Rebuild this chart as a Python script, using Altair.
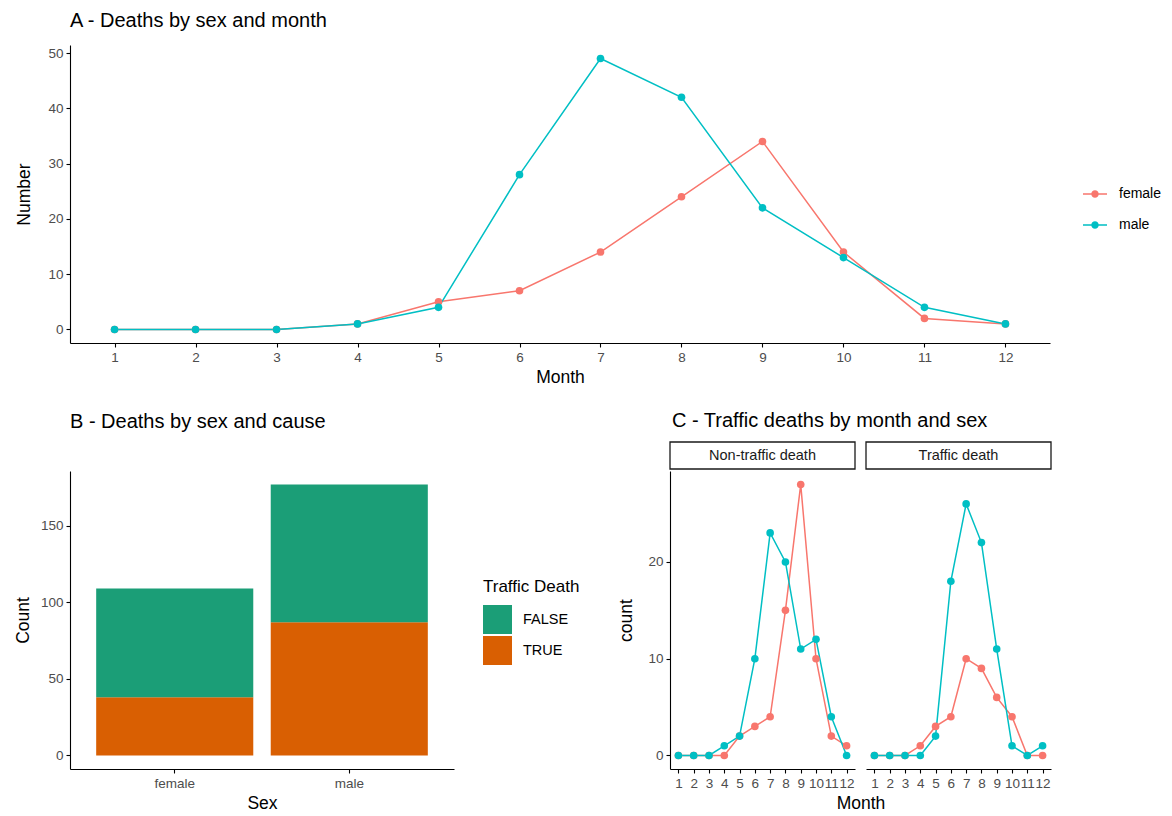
import altair as alt
import pandas as pd

FONT = "Liberation Sans"

# ---------------- data ----------------
months = list(range(1, 13))
sexes = ["female", "male"]
sex_colors = ["#F8766D", "#00BFC4"]

# Panel A: deaths by sex and month
female_by_month = [0, 0, 0, 1, 5, 7, 14, 24, 34, 14, 2, 1]
male_by_month = [0, 0, 0, 1, 4, 28, 49, 42, 22, 13, 4, 1]

# Panel B: deaths by sex and cause
traffic_levels = ["FALSE", "TRUE"]
traffic_colors = ["#1B9E77", "#D95F02"]
count_traffic_true = [38, 87]
count_traffic_false = [71, 90]

# Panel C: traffic deaths by month and sex
strip_labels = ["Non-traffic death", "Traffic death"]
nontraffic_female = [0, 0, 0, 0, 2, 3, 4, 15, 28, 10, 2, 1]
nontraffic_male = [0, 0, 0, 1, 2, 10, 23, 20, 11, 12, 4, 0]
traffic_female = [0, 0, 0, 1, 3, 4, 10, 9, 6, 4, 0, 0]
traffic_male = [0, 0, 0, 0, 2, 18, 26, 22, 11, 1, 0, 1]

# ---------------- helpers ----------------
sex_scale = alt.Scale(domain=sexes, range=sex_colors)
legend_symbol = ("M-1,-0.065L1,-0.065L1,0.065L-1,0.065Z "
                 "M0.31,0A0.31,0.31 0 1,1 -0.31,0A0.31,0.31 0 1,1 0.31,0Z")


def title_params(text, offset, dx=0):
    return alt.TitleParams(text, anchor="start", frame="group", fontSize=20,
                           fontWeight="normal", color="#000000", font=FONT,
                           offset=offset, dx=dx)


def month_x(title, title_x=None, label_size=13.5):
    kw = dict(values=months, format="d", labelFlush=False, labelOverlap=False,
              labelFontSize=label_size)
    if title_x is not None:
        kw["titleX"] = title_x
    return alt.X("Month:Q", title=title,
                 scale=alt.Scale(domain=[0.45, 12.55], nice=False, zero=False),
                 axis=alt.Axis(**kw))


# ---------------- panel A ----------------
dfA = pd.DataFrame({
    "Month": months * 2,
    "Number": female_by_month + male_by_month,
    "Sex": [sexes[0]] * 12 + [sexes[1]] * 12,
})
legendA = alt.Legend(
    title=None, orient="none", legendX=1013, legendY=137,
    symbolType=legend_symbol, symbolSize=576, symbolStrokeWidth=0,
    labelFontSize=14, labelOffset=12, rowPadding=12, labelFont=FONT)
yA = alt.Y("Number:Q", title="Number",
           scale=alt.Scale(domain=[-2.45, 51.45], nice=False, zero=False),
           axis=alt.Axis(values=[0, 10, 20, 30, 40, 50], titlePadding=14))
baseA = alt.Chart(dfA).encode(x=month_x("Month"), y=yA)
lineA = baseA.mark_line(strokeWidth=1.5).encode(
    color=alt.Color("Sex:N", scale=sex_scale, legend=legendA))
pointA = baseA.mark_point(filled=True, size=58, opacity=1).encode(
    color=alt.Color("Sex:N", scale=sex_scale, legend=legendA))
chartA = alt.layer(lineA, pointA).properties(
    width=980, height=298, title=title_params("A - Deaths by sex and month", 14))

# ---------------- panel B ----------------
dfB = pd.DataFrame({
    "Sex": sexes * 2,
    "traffic": [traffic_levels[1]] * 2 + [traffic_levels[0]] * 2,
    "Count": count_traffic_true + count_traffic_false,
})
chartB = alt.Chart(dfB).mark_bar().encode(
    x=alt.X("Sex:N", title="Sex", sort=sexes,
            scale=alt.Scale(paddingInner=0.1, paddingOuter=0.15),
            axis=alt.Axis(labelAngle=0)),
    y=alt.Y("Count:Q", title="Count", stack="zero",
            scale=alt.Scale(domain=[-8.85, 185.85], nice=False, zero=False),
            axis=alt.Axis(values=[0, 50, 100, 150], titlePadding=8)),
    color=alt.Color("traffic:N", scale=alt.Scale(domain=traffic_levels, range=traffic_colors),
                    legend=alt.Legend(title="Traffic Death", orient="none",
                                      legendX=413, legendY=108,
                                      symbolType="square", symbolSize=841,
                                      symbolStrokeWidth=0, labelFontSize=14.5,
                                      labelOffset=11, rowPadding=2,
                                      titleFontSize=17, titleFontWeight="normal",
                                      titleColor="#000000", titlePadding=9)),
    order=alt.Order("traffic:N", sort="descending"),
).properties(width=384, height=298,
             title=title_params("B - Deaths by sex and cause", 39))


# ---------------- panel C ----------------
def facet_panel(label, female, male, first):
    df = pd.DataFrame({
        "Month": months * 2,
        "count": female + male,
        "Sex": [sexes[0]] * 12 + [sexes[1]] * 12,
    })
    if first:
        y = alt.Y("count:Q", title="count",
                  scale=alt.Scale(domain=[-1.4, 29.4], nice=False, zero=False),
                  axis=alt.Axis(values=[0, 10, 20], titlePadding=12))
        x = month_x("Month", title_x=190.5)
    else:
        y = alt.Y("count:Q", scale=alt.Scale(domain=[-1.4, 29.4], nice=False, zero=False),
                  axis=None)
        x = month_x(None)
    base = alt.Chart(df).encode(x=x, y=y)
    line = base.mark_line(strokeWidth=1.5).encode(
        color=alt.Color("Sex:N", scale=sex_scale, legend=None))
    point = base.mark_point(filled=True, size=58, opacity=1).encode(
        color=alt.Color("Sex:N", scale=sex_scale, legend=None))
    sdf = pd.DataFrame({"label": [label]})
    box = alt.Chart(sdf).mark_rect(fill="white", stroke="#1A1A1A", strokeWidth=1.3).encode(
        x=alt.value(0), x2=alt.value(185), y=alt.value(-29), y2=alt.value(-2))
    txt = alt.Chart(sdf).mark_text(fontSize=14.5, color="#1A1A1A", font=FONT).encode(
        text="label:N", x=alt.value(92.5), y=alt.value(-15.5))
    return alt.layer(box, txt, line, point).properties(width=185, height=298)


cLeft = facet_panel(strip_labels[0], nontraffic_female, nontraffic_male, True)
cRight = facet_panel(strip_labels[1], traffic_female, traffic_male, False)
chartC = alt.hconcat(cLeft, cRight, spacing=11, bounds="flush").properties(
    title=title_params("C - Traffic deaths by month and sex", 10, dx=2))

row2 = alt.hconcat(chartB, chartC, spacing=37).resolve_scale(color="independent")

chart = alt.vconcat(chartA, row2, spacing=25).resolve_scale(color="independent").properties(
    padding={"left": 6, "top": 3, "right": 0, "bottom": 0}
).configure(font=FONT).configure_view(stroke=None).configure_axis(
    domainColor="#000000", domainWidth=1.1, tickColor="#000000", tickWidth=1.1,
    tickSize=4, labelColor="#4D4D4D", labelFontSize=13.5, labelFont=FONT,
    titleFont=FONT, titleFontSize=17.5, titleFontWeight="normal", titleColor="#000000",
    labelPadding=3, titlePadding=5, grid=False,
).configure_legend(labelColor="#000000", labelFont=FONT, titleFont=FONT)

chart.save("out.html", embed_options={"renderer": "svg", "actions": False})
